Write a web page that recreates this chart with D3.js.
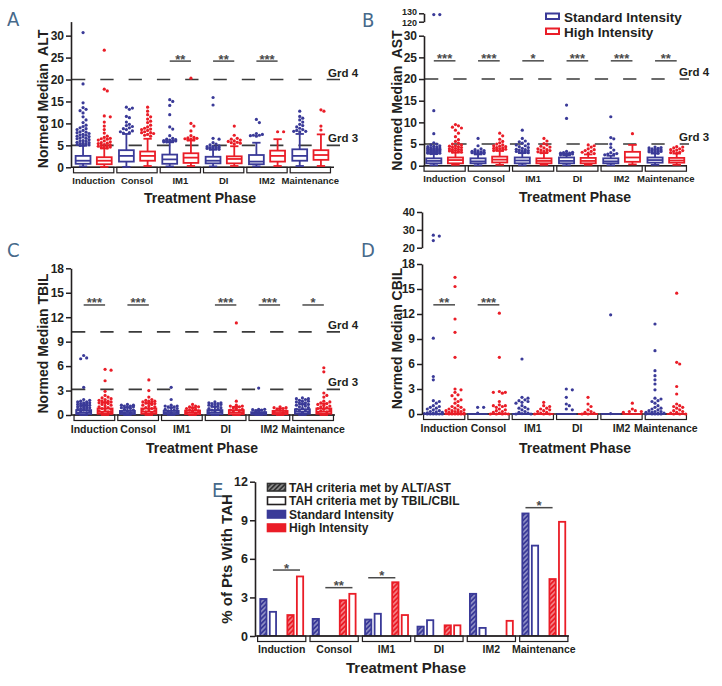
<!DOCTYPE html>
<html><head><meta charset="utf-8">
<script src="https://cdn.jsdelivr.net/npm/d3@7"></script>
<style>
body{margin:0;background:#fff;}
svg text{font-family:"Liberation Sans",Arial,Helvetica,sans-serif;font-weight:bold;}
</style></head><body>
<svg id="chart" width="722" height="686"></svg>
<script>
// ---------------- DATA ----------------
const phases = ["Induction","Consol","IM1","DI","IM2","Maintenance"];
const groups = ["std","high"];
const legendNames = ["Standard Intensity","High Intensity"];

// Panel A – ALT  box = [whiskerLow, q1, median, q3, whiskerHigh]
const altStdBox  = [[0.2,0.8,1.5,2.6,4.9],[0.1,1.3,2.6,3.9,7.6],[0.2,0.8,1.8,2.9,5.7],[0.2,0.9,1.5,2.4,4.0],[0.2,0.7,1.3,2.8,5.6],[0.3,1.5,2.6,4.1,7.6]];
const altHighBox = [[0.1,0.7,1.5,2.3,4.3],[0.3,1.5,2.6,3.6,6.5],[0.3,1.0,2.2,3.2,6.1],[0.3,0.9,1.9,2.5,4.8],[0.3,1.3,2.6,3.8,6.4],[0.3,1.7,2.8,3.9,7.5]];
const altStdPts = [
  [30.7,19.0,14.7,13.6,13.2,12.9,12.4,11.5,10.8,10.2,9.6,9.3,9.0,8.8,8.6,8.4,8.1,7.9,7.7,7.5,7.3,7.1,6.9,6.7,6.5,6.3,6.1,5.9,5.7,5.5,5.3,5.1,5.0,5.0,5.2,5.4,5.6,6.0,6.6,7.0,7.4,8.0],
  [13.7,13.5,13.2,11.6,11.3,10.3,9.8,9.5,9.3,9.0,8.8,8.6,8.3,8.1,7.9,7.8],
  [15.4,15.0,14.1,12.0,9.2,8.7,7.2,6.6,6.4,6.3,6.2,6.1,6.0,6.0,5.9,5.9,5.8,5.8,6.1],
  [15.9,14.2,6.6,6.4,5.6,5.3,5.1,4.9,4.8,4.7,4.6,4.5,4.4,4.3,4.2,4.1,4.5,4.3],
  [10.9,10.2,7.7,7.5,7.3,7.3,7.2,7.1],
  [12.8,11.6,11.2,10.8,10.3,9.8,9.5,9.2,8.9,8.6,8.4,8.2,8.2,8.1]
];
const altHighPts = [
  [26.7,17.8,17.4,11.7,11.5,10.3,9.4,8.6,7.8,7.1,6.8,6.6,6.4,6.2,6.0,5.8,5.6,5.4,5.2,5.0,4.9,4.8,4.7,4.6,4.5,4.4,5.1,5.5,6.5],
  [13.7,12.8,12.0,11.5,11.0,10.5,10.2,9.6,9.2,8.9,8.7,8.4,8.1,7.9,7.7,7.5,7.3,7.1,7.9,8.6],
  [20.3,10.0,9.4,8.3,7.2,6.8,6.7,6.6,6.5,6.4,6.3,6.3],
  [9.4,7.3,6.6,6.4,6.2,5.9,5.7,5.5,5.3,5.6,6.0],
  [8.1,8.1],
  [13.1,12.8,9.4,8.5]
];
const altSig = [{phase:"IM1",stars:"**"},{phase:"DI",stars:"**"},{phase:"IM2",stars:"***"}];
const altSigValue = 24.2;
const altTicks = [0,5,10,15,20,25,30];
const altGrades = [{value:20,label:"Grd 4"},{value:5,label:"Grd 3"}];

// Panel B – AST
const astStdBox  = [[0.1,0.55,1.1,1.7,2.7],[0.1,0.55,1.0,1.7,2.6],[0.1,0.55,1.2,1.9,2.9],[0.1,0.55,1.1,1.9,2.4],[0.1,0.55,1.0,1.7,2.3],[0.2,0.7,1.3,1.9,2.8]];
const astHighBox = [[0.2,0.55,1.3,1.9,3.0],[0.2,0.75,1.4,2.1,3.4],[0.2,0.55,1.1,1.7,2.9],[0.2,0.55,1.1,1.8,2.6],[0.3,0.9,1.9,3.2,4.8],[0.2,0.7,1.2,1.8,2.8]];
const astStdPts = [
  [128.5,128.5,12.7,7.4,5.3,5.0,4.8,4.6,4.5,4.4,4.3,4.2,4.1,4.0,3.9,3.8,3.7,3.6,3.5,3.4,3.3,3.2,3.1,3.0,2.9,2.9,2.8,2.8,3.0,3.2,3.4,3.6,3.8,4.0,2.9,3.1,3.3,3.5,3.7],
  [6.3,4.6,3.9,3.7,3.5,3.3,3.2,3.1,3.0,2.9,2.9,2.8,2.8,3.0,3.2,3.4],
  [8.2,6.3,5.7,5.5,5.2,5.0,4.8,4.6,4.4,4.2,4.0,3.8,3.6,3.4,3.2,3.0,3.0,3.1,3.3,3.5,3.7],
  [14.0,10.9,3.3,3.1,3.0,2.9,2.8,2.7,2.6,2.5,2.5,2.7,2.9],
  [11.3,6.5,6.2,5.0,4.2,3.6,3.0,2.8,2.7,2.6,2.5],
  [4.3,4.2,4.1,4.0,3.9,3.8,3.7,3.6,3.5,3.4,3.3,3.2,3.1,3.0,2.9,3.3,3.6]
];
const astHighPts = [
  [9.5,9.2,8.9,8.7,8.2,7.5,6.7,6.0,5.6,5.2,5.0,4.8,4.6,4.5,4.3,4.2,4.0,3.8,3.7,3.6,3.4,3.3,3.2,3.1,3.5,3.9,4.4],
  [7.5,6.9,6.1,5.6,5.3,5.0,4.8,4.6,4.4,4.2,4.0,3.9,3.8,3.7,3.6,3.5,4.1,4.5],
  [6.3,5.7,5.1,4.8,4.5,4.3,4.1,3.9,3.7,3.5,3.3,3.1,3.0,3.2,3.6],
  [4.8,4.6,4.3,3.9,3.7,3.5,3.3,3.1,2.9,2.8],
  [7.4],
  [4.4,4.3,4.1,3.9,3.7,3.5,3.3,3.1,3.0,2.9,3.6]
];
const astSig = [{phase:"Induction",stars:"***"},{phase:"Consol",stars:"***"},{phase:"IM1",stars:"*"},{phase:"DI",stars:"***"},{phase:"IM2",stars:"***"},{phase:"Maintenance",stars:"**"}];
const astSigValue = 24.2;
const astTicks = [0,5,10,15,20,25,30];
const astUpperTicks = [120,130];
const astGrades = [{value:20,label:"Grd 4"},{value:5,label:"Grd 3"}];

// Panel C – TBIL
const tbilStdBox  = [[0,0.1,0.3,0.6,1.2],[0,0.1,0.25,0.5,0.9],[0,0.1,0.25,0.5,0.9],[0,0.1,0.3,0.6,1.0],[0,0.05,0.15,0.35,0.6],[0,0.15,0.4,0.7,1.3]];
const tbilHighBox = [[0,0.15,0.4,0.8,1.5],[0,0.15,0.4,0.8,1.4],[0,0.1,0.3,0.55,0.9],[0,0.1,0.3,0.6,1.0],[0,0.1,0.25,0.5,0.8],[0,0.15,0.4,0.8,1.4]];
const tbilStdPts = [
  [7.3,7.0,6.9,3.4,1.9,1.8,1.7,1.6,1.6,1.5,1.5,1.4,1.4,1.3,1.3,1.2,1.2,1.1,1.1,1.0,1.0,0.9,0.9,0.8,0.8,0.7,0.6,0.5,0.4,0.3,0.2],
  [1.3,1.2,1.1,1.0,1.0,1.1,1.2,0.9,0.8,0.7,0.6,0.5,0.4,0.3,0.2],
  [3.4,1.9,1.1,1.1,1.0,1.0,1.2,0.9,0.8,0.7,0.6,0.5,0.4,0.3,0.2],
  [1.6,1.5,1.5,1.4,1.3,1.2,1.1,1.1,1.3,1.4,1.0,0.9,0.8,0.7,0.6,0.5,0.4,0.3],
  [3.3,0.7,0.7,0.65,0.6,0.5,0.4,0.3,0.2],
  [2.1,2.0,2.0,1.9,1.8,1.7,1.6,1.5,1.4,1.5,1.7,1.3,1.2,1.1,1.0,0.9,0.8,0.7,0.6,0.5,0.4,0.3]
];
const tbilHighPts = [
  [5.6,5.5,4.2,2.9,2.4,2.1,2.0,1.9,1.8,1.7,1.6,1.6,1.5,1.7,2.2,1.4,1.3,1.2,1.1,1.0,0.9,0.8,0.7,0.6,0.5,0.4,0.3,0.2],
  [4.3,3.0,2.2,1.8,1.7,1.6,1.6,1.5,1.5,1.7,1.9,1.4,1.3,1.2,1.1,1.0,0.9,0.8,0.7,0.6,0.5,0.4,0.3],
  [1.3,1.1,1.0,1.0,0.9,0.8,0.7,0.6,0.5,0.4,0.3,0.2],
  [11.3,1.7,1.2,1.1,1.1,1.0,0.9,0.8,0.7,0.6,0.5,0.4,0.3],
  [1.0,0.9,0.9,0.8,0.7,0.6,0.5,0.4,0.3],
  [5.8,5.3,2.7,2.4,2.2,1.7,1.6,1.5,1.4,1.3,1.2,1.1,1.0,0.9,0.8,0.7,0.6,0.5,0.4,0.3]
];
const tbilSig = [{phase:"Induction",stars:"***"},{phase:"Consol",stars:"***"},{phase:"DI",stars:"***"},{phase:"IM2",stars:"***"},{phase:"Maintenance",stars:"*"}];
const tbilSigValue = 13.5;
const tbilTicks = [0,3,6,9,12,15,18];
const tbilGrades = [{value:10.2,label:"Grd 4"},{value:3.15,label:"Grd 3"}];

// Panel D – CBIL (dot plot)
const cbilStdPts = [
  [27.0,26.5,24.0,9.1,4.5,4.1,1.6,1.5,1.3,1.0,0.9,0.8,0.7,0.6,0.5,0.4,0.3,0.25,0.2,0.15,0.1,0.05,0,0,0,0,0,0],
  [0.8,0.8,0.1],
  [6.6,2.0,1.9,1.7,1.6,1.5,1.4,1.3,1.0,0.8,0.7,0.6,0.5,0.3,0.2,0.1,0.05,0,0],
  [3.0,2.9,2.0,1.2,1.0,0.6,0.5],
  [11.9,0.05],
  [10.8,7.6,5.2,4.6,4.1,3.6,2.9,1.9,1.8,1.6,1.5,1.3,1.0,0.8,0.7,0.6,0.5,0.4,0.3,0.3,0.2,0.2,0.1,0.1,0.05,0,0,0,0,0]
];
const cbilHighPts = [
  [16.4,15.3,11.4,9.8,6.8,3.0,2.9,2.6,2.3,2.2,1.8,1.7,1.5,1.3,1.0,0.9,0.8,0.7,0.6,0.5,0.5,0.4,0.4,0.3,0.3,0.2,0.2,0.1,0.1,0.05,0,0,0,0,0,0],
  [12.1,6.8,2.7,2.6,2.6,2.5,1.5,1.1,1.0,1.0,0.9,0.8,0.6,0.5,0.4,0.3,0.2,0.1,0.05,0,0,0,0],
  [1.4,1.0,0.9,0.7,0.6,0.5,0.4,0.3,0.2,0.1,0,0,0],
  [2.0,1.2,0.9,0.5,0.3,0.2,0.1,0,0],
  [1.3,0.6,0.4,0.3,0.3,0.2],
  [14.5,6.2,6.0,3.3,2.4,1.2,1.0,0.9,0.8,0.7,0.5,0.4,0.3,0.2,0.1,0,0,0]
];
const cbilStdMedian  = [0,0,0,0,0,0];
const cbilHighMedian = [0,0,0,0,0,0];
const cbilSig = [{phase:"Induction",stars:"**"},{phase:"Consol",stars:"***"}];
const cbilSigValue = 13.1;
const cbilTicks = [0,3,6,9,12,15,18];
const cbilUpperTicks = [20,30,40];

// Panel E – % of patients with TAH
const criteria = ["alt","bil"];
const criteriaNames = ["TAH criteria met by ALT/AST","TAH criteria met by TBIL/CBIL"];
const tahAltStd  = [2.95,1.4,1.35,0.8,3.35,9.6];
const tahBilStd  = [1.95,0,1.8,1.3,0.7,7.1];
const tahAltHigh = [1.7,2.85,4.25,0.9,0,4.5];
const tahBilHigh = [4.7,3.35,1.7,0.9,1.25,8.95];
const tahSig = [
  {phase:"Induction",from:["std","bil"],to:["high","bil"],stars:"*",value:5.13},
  {phase:"Consol",from:["std","bil"],to:["high","bil"],stars:"**",value:3.76},
  {phase:"IM1",from:["std","alt"],to:["high","alt"],stars:"*",value:4.53},
  {phase:"Maintenance",from:["std","alt"],to:["high","alt"],stars:"*",value:9.98}
];
const tahTicks = [0,3,6,9,12];

// ---------------- DRAWING ----------------
const BLUE = "#3a3a98", RED = "#ea1d27", INK = "#231f20", LETTER = "#46698a", SIG = "#4a4a4a";
const svg = d3.select("#chart");
const defs = svg.append("defs");

function addText(parent, x, y, str, size, anchor) {
  return parent.append("text").attr("x", x).attr("y", y)
    .attr("text-anchor", anchor || "middle").attr("fill", INK)
    .style("font-size", size + "px").text(str);
}
function letter(x, y, s) {
  svg.append("text").attr("x", x).attr("y", y).attr("fill", LETTER)
    .style("font-family", '"DejaVu Sans Condensed","Liberation Sans Narrow",sans-serif')
    .style("font-weight", "normal").style("font-size", "20px").text(s);
}
function yTitle(x, y, s, size) {
  svg.append("text").attr("transform", `translate(${x},${y}) rotate(-90)`)
    .attr("text-anchor", "middle").attr("fill", INK).style("font-size", size + "px")
    .style("white-space", "pre").text(s);
}
function dodge(vals, yf, r, step, maxOff) {
  const pts = vals.map(v => ({v, y: yf(v)})).sort((a, b) => a.y - b.y);
  const cands = [0];
  for (let k = 1; k * step <= maxOff + 1e-6; k++) cands.push(k * step, -k * step);
  const placed = [];
  for (const p of pts) {
    let best = 0, bestD = -1;
    for (const c of cands) {
      let md = Infinity;
      for (const q of placed) { const d = Math.hypot(q.dx - c, q.y - p.y); if (d < md) md = d; }
      if (md >= 2 * r) { best = c; break; }
      if (md > bestD) { bestD = md; best = c; }
    }
    p.dx = best; placed.push(p);
  }
  return pts;
}
function styleAxis(ax, size) {
  ax.attr("font-family", null).attr("font-size", null);
  ax.select(".domain").attr("stroke", INK).attr("stroke-width", 1.6);
  ax.selectAll(".tick line").attr("stroke", INK).attr("stroke-width", 1.5);
  ax.selectAll(".tick text").attr("fill", INK).style("font-size", size + "px");
}
function drawBox(g, cx, w, s, y, col) {
  const [lo, q1, med, q3, hi] = s;
  const st = (sel) => sel.attr("stroke", col).attr("stroke-width", 1.8);
  st(g.append("line").attr("x1", cx).attr("x2", cx).attr("y1", y(hi)).attr("y2", y(q3)));
  st(g.append("line").attr("x1", cx).attr("x2", cx).attr("y1", y(q1)).attr("y2", y(lo)));
  st(g.append("line").attr("x1", cx - w * 0.28).attr("x2", cx + w * 0.28).attr("y1", y(hi)).attr("y2", y(hi)));
  st(g.append("line").attr("x1", cx - w * 0.28).attr("x2", cx + w * 0.28).attr("y1", y(lo)).attr("y2", y(lo)));
  st(g.append("rect").attr("x", cx - w / 2).attr("y", y(q3)).attr("width", w)
    .attr("height", Math.max(0.5, y(q1) - y(q3))).attr("fill", "#fff"));
  st(g.append("line").attr("x1", cx - w / 2).attr("x2", cx + w / 2).attr("y1", y(med)).attr("y2", y(med)));
}

function panel(o) {
  const g = svg.append("g");
  const x = d3.scaleBand().domain(phases).range(o.xRange).paddingInner(0.07).paddingOuter(0.035);
  const xi = d3.scaleBand().domain(groups).range([0, x.bandwidth()]).paddingInner(0.3).paddingOuter(0.1);
  const cx = (p, k) => x(p) + xi(k) + xi.bandwidth() / 2;
  const yv = v => (o.yUp && v > o.yMainMax) ? o.yUp(v) : o.y(v);
  const y0 = o.y(0);

  (o.grades || []).forEach(gr => {
    const yy = o.y(gr.value);
    g.append("line").attr("x1", o.axisX + 1).attr("x2", o.gradeEnd).attr("y1", yy).attr("y2", yy)
      .attr("stroke", "#3a3a3a").attr("stroke-width", 1.6).attr("stroke-dasharray", "13.3,15");
    addText(g, o.gradeLabelX, yy - 3, gr.label, 11.5, "start");
  });
  o.sig.forEach(s => {
    const yy = o.y(o.sigValue);
    const x1 = cx(s.phase, "std"), x2 = cx(s.phase, "high");
    g.append("line").attr("x1", x1).attr("x2", x2).attr("y1", yy).attr("y2", yy)
      .attr("stroke", SIG).attr("stroke-width", 1.5);
    addText(g, (x1 + x2) / 2, yy + 2.5, s.stars, 13).attr("fill", SIG);
  });
  // brackets + x axis
  phases.forEach(p => g.append("rect").attr("x", x(p)).attr("y", y0).attr("width", x.bandwidth())
    .attr("height", 5.5).attr("fill", "#fff").attr("stroke", INK).attr("stroke-width", 1.2));
  g.append("line").attr("x1", o.axisX).attr("x2", o.xEnd).attr("y1", y0).attr("y2", y0)
    .attr("stroke", INK).attr("stroke-width", 1.6);

  groups.forEach((k, i) => {
    const col = i ? RED : BLUE;
    if (o.boxes) phases.forEach((p, j) => drawBox(g, cx(p, k), xi.bandwidth(), o.boxes[i][j], o.y, col));
    if (o.medians) phases.forEach((p, j) => g.append("line")
      .attr("x1", cx(p, k) - 10).attr("x2", cx(p, k) + 10)
      .attr("y1", o.y(o.medians[i][j])).attr("y2", o.y(o.medians[i][j]))
      .attr("stroke", col).attr("stroke-width", 1.8));
    phases.forEach((p, j) => {
      const c = cx(p, k);
      dodge(o.pts[i][j], yv, 1.6, 3, o.maxOff).forEach(d =>
        g.append("circle").attr("cx", c + d.dx).attr("cy", d.y).attr("r", 1.6).attr("fill", col));
    });
  });

  phases.forEach(p => addText(g, x(p) + x.bandwidth() / 2, o.catBase, p, o.catFont));
  addText(g, o.titleX, o.titleBase, "Treatment Phase", o.titleFont || 14);

  const ax = g.append("g").attr("transform", `translate(${o.axisX},0)`)
    .call(d3.axisLeft(o.y).tickValues(o.ticks).tickSize(5).tickPadding(2).tickSizeOuter(0));
  styleAxis(ax, 12);
  if (o.yUp) {
    const au = g.append("g").attr("transform", `translate(${o.axisX},0)`)
      .call(d3.axisLeft(o.yUp).tickValues(o.upTicks).tickSize(5).tickPadding(2).tickSizeOuter(0));
    styleAxis(au, o.upFont || 11);
    if (o.upNudge) au.selectAll(".tick text").attr("dy", (d, i) => o.upNudge[i]);
  }
}

// A
panel({
  xRange: [72, 332], axisX: 71, xEnd: 334,
  y: d3.scaleLinear().domain([0, 33.2]).range([167.3, 21.6]), ticks: altTicks,
  boxes: [altStdBox, altHighBox], pts: [altStdPts, altHighPts], maxOff: 8,
  grades: altGrades, gradeEnd: 341, gradeLabelX: 328,
  sig: altSig, sigValue: altSigValue,
  catBase: 184, catFont: 9.5, titleX: 200, titleBase: 203
});
yTitle(48, 99, "Normed Median  ALT", 14);
letter(7, 26, "A");

// B
panel({
  xRange: [422.5, 688], axisX: 424, xEnd: 687,
  y: d3.scaleLinear().domain([0, 30]).range([165.7, 35.7]), ticks: astTicks,
  yUp: d3.scaleLinear().domain([120, 130]).range([21.7, 13.3]), upTicks: astUpperTicks, yMainMax: 30,
  upFont: 9, upNudge: ["0.45em", "0.15em"],
  boxes: [astStdBox, astHighBox], pts: [astStdPts, astHighPts], maxOff: 8,
  grades: astGrades, gradeEnd: 689, gradeLabelX: 679,
  sig: astSig, sigValue: astSigValue,
  catBase: 181.5, catFont: 9.5, titleX: 575, titleBase: 201.5
});
yTitle(402, 100.5, "Normed Median  AST", 14);
letter(362, 27, "B");
// B legend
legendNames.forEach((n, i) => {
  svg.append("rect").attr("x", 546).attr("y", 13.5 + i * 15).attr("width", 13).attr("height", 5.5)
    .attr("fill", "#fff").attr("stroke", i ? RED : BLUE).attr("stroke-width", 2);
  addText(svg, 564, 21.5 + i * 15, n, 13.5, "start");
});

// C
panel({
  xRange: [72.5, 335], axisX: 71, xEnd: 335,
  y: d3.scaleLinear().domain([0, 18]).range([415, 268.3]), ticks: tbilTicks,
  boxes: [tbilStdBox, tbilHighBox], pts: [tbilStdPts, tbilHighPts], maxOff: 8,
  grades: tbilGrades, gradeEnd: 341, gradeLabelX: 328,
  sig: tbilSig, sigValue: tbilSigValue,
  catBase: 432.5, catFont: 10.5, titleX: 202, titleBase: 453
});
yTitle(48, 343.5, "Normed Median TBIL", 14);
letter(7, 257, "C");

// D
panel({
  xRange: [422, 688], axisX: 422, xEnd: 687,
  y: d3.scaleLinear().domain([0, 18]).range([414, 264]), ticks: cbilTicks,
  yUp: d3.scaleLinear().domain([20, 40]).range([247.7, 212]), upTicks: cbilUpperTicks, yMainMax: 18,
  medians: [cbilStdMedian, cbilHighMedian], pts: [cbilStdPts, cbilHighPts], maxOff: 10,
  sig: cbilSig, sigValue: cbilSigValue,
  catBase: 432, catFont: 10.5, titleX: 575, titleBase: 453
});
yTitle(402, 338.5, "Normed Median CBIL", 14);
letter(361, 257, "D");

// E
function hatch(id, color) {
  const p = defs.append("pattern").attr("id", id).attr("patternUnits", "userSpaceOnUse")
    .attr("width", 3.4).attr("height", 3.4).attr("patternTransform", "rotate(45)");
  p.append("rect").attr("width", 3.4).attr("height", 3.4).attr("fill", color);
  p.append("line").attr("x1", 1.7).attr("x2", 1.7).attr("y1", 0).attr("y2", 3.4)
    .attr("stroke", "#fff").attr("stroke-width", 0.9).attr("stroke-opacity", 0.8);
}
hatch("hB", BLUE); hatch("hR", RED); hatch("hK", "#333");

(function () {
  const g = svg.append("g");
  const xE = d3.scaleBand().domain(phases).range([255.5, 570]).paddingInner(0.08).paddingOuter(0.04);
  const yE = d3.scaleLinear().domain([0, 12]).range([636, 481.7]);
  const pairE = d3.scaleBand().domain(groups).range([0, xE.bandwidth()]).paddingInner(0.35).paddingOuter(0.064);
  const critE = d3.scaleBand().domain(criteria).range([0, pairE.bandwidth()]).paddingInner(0.15);
  const series = [
    {group: "std", crit: "alt", values: tahAltStd},
    {group: "std", crit: "bil", values: tahBilStd},
    {group: "high", crit: "alt", values: tahAltHigh},
    {group: "high", crit: "bil", values: tahBilHigh}
  ];
  const bx = (p, gr, c) => xE(p) + pairE(gr) + critE(c);
  const y0 = yE(0);

  series.forEach(s => {
    const col = s.group === "std" ? BLUE : RED;
    phases.forEach((p, j) => {
      const v = s.values[j];
      if (v <= 0) return;
      g.append("rect").attr("x", bx(p, s.group, s.crit) + 0.9).attr("y", yE(v) + 0.9)
        .attr("width", critE.bandwidth() - 1.8).attr("height", y0 - yE(v) - 0.9)
        .attr("fill", s.crit === "alt" ? (s.group === "std" ? "url(#hB)" : "url(#hR)") : "#fff")
        .attr("stroke", col).attr("stroke-width", 1.8);
    });
  });
  tahSig.forEach(s => {
    const yy = yE(s.value);
    const x1 = bx(s.phase, s.from[0], s.from[1]) + critE.bandwidth() / 2;
    const x2 = bx(s.phase, s.to[0], s.to[1]) + critE.bandwidth() / 2;
    g.append("line").attr("x1", x1).attr("x2", x2).attr("y1", yy).attr("y2", yy)
      .attr("stroke", SIG).attr("stroke-width", 1.5);
    addText(g, (x1 + x2) / 2, yy + 2.5, s.stars, 13).attr("fill", SIG);
  });
  phases.forEach(p => g.append("rect").attr("x", xE(p)).attr("y", y0).attr("width", xE.bandwidth())
    .attr("height", 5.5).attr("fill", "#fff").attr("stroke", INK).attr("stroke-width", 1.2));
  g.append("line").attr("x1", 255).attr("x2", 569).attr("y1", y0).attr("y2", y0)
    .attr("stroke", INK).attr("stroke-width", 1.6);
  const ax = g.append("g").attr("transform", "translate(255,0)")
    .call(d3.axisLeft(yE).tickValues(tahTicks).tickSize(5).tickPadding(2).tickSizeOuter(0));
  styleAxis(ax, 12.5);
  phases.forEach(p => addText(g, xE(p) + xE.bandwidth() / 2, 653, p, 10.5));
  addText(g, 406, 673, "Treatment Phase", 15);

  // legend
  const leg = [
    {fill: "url(#hK)", stroke: "#333", label: criteriaNames[0]},
    {fill: "#fff", stroke: INK, label: criteriaNames[1]},
    {fill: BLUE, stroke: BLUE, label: legendNames[0]},
    {fill: RED, stroke: RED, label: legendNames[1]}
  ];
  leg.forEach((d, i) => {
    const b = 491.5 + i * 13.5;
    g.append("rect").attr("x", 267.5).attr("y", b - 8).attr("width", 18).attr("height", 7.5)
      .attr("fill", d.fill).attr("stroke", d.stroke).attr("stroke-width", 1.6);
    addText(g, 289, b, d.label, 12, "start");
  });
})();
yTitle(232, 559, "% of Pts With TAH", 15);
letter(212, 497, "E");
</script>
</body></html>
